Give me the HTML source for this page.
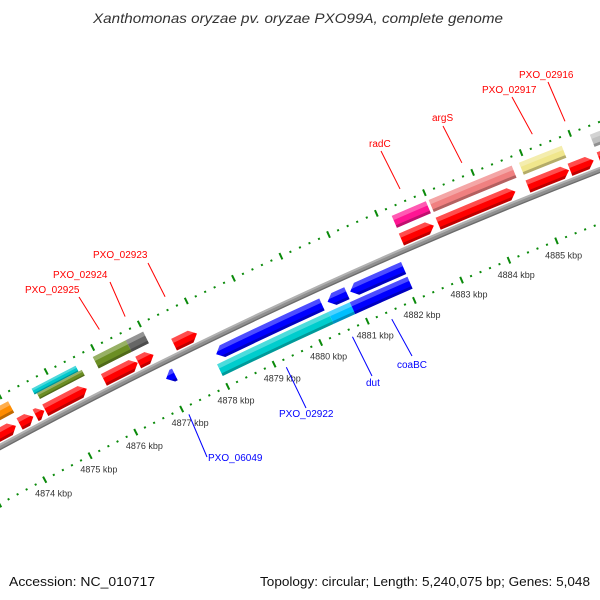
<!DOCTYPE html>
<html><head><meta charset="utf-8"><style>
html,body{margin:0;padding:0;background:#fff;}
svg{display:block;font-family:"Liberation Sans",sans-serif;}
</style></head><body>
<svg id="map" width="600" height="600" viewBox="0 0 600 600" xmlns="http://www.w3.org/2000/svg">
<rect width="600" height="600" fill="#fff"/>
<defs id="defs"></defs>
<g id="ticks"></g>
<g id="backbone"></g>
<g id="features"></g>
<g id="labels"></g>
<text x="298" y="23" text-anchor="middle" font-size="14" font-style="italic" fill="#333" textLength="410" lengthAdjust="spacingAndGlyphs">Xanthomonas oryzae pv. oryzae PXO99A, complete genome</text>
<text x="9" y="586" font-size="13" fill="#111" textLength="146" lengthAdjust="spacingAndGlyphs">Accession: NC_010717</text>
<text x="260" y="586" font-size="13" fill="#111" textLength="330" lengthAdjust="spacingAndGlyphs">Topology: circular; Length: 5,240,075 bp; Genes: 5,048</text>
</svg>
<script>
// ---- data (kbp) ----
const fwdStarts = [4873.0,4874.08,4874.43,4874.64,4875.91,4876.65,4877.42,4882.24,4883.01,4884.88,4885.75,4886.35];
const fwdEnds   = [4874.0,4874.38,4874.62,4875.54,4876.64,4876.98,4877.91,4882.92,4884.62,4885.73,4886.24,4887.5];
const boxStarts = [4873.0,4874.60,4874.65,4875.92,4876.63,4882.25,4883.02,4884.89,4886.35];
const boxEnds   = [4874.09,4875.55,4875.62,4876.63,4877.0,4882.96,4884.74,4885.77,4887.5];
const boxColors = ['#ff8c00','#00c8cc','#6b8e23','#6b8e23','#666666','#ff1493','#f08080','#f0e68c','#c0c0c0'];
const boxHalf   = [0,1,-1,0,0,0,0,0,0];
const revStarts = [4876.99,4878.07,4880.45,4880.93];
const revEnds   = [4877.18,4880.33,4880.86,4882.06];
const rev2Starts = [4878.0,4880.38,4880.84];
const rev2Ends   = [4880.38,4880.84,4882.06];
const rev2Colors = ['#00cdcd','#00bfff','#0000ff'];
const tickMin = 4871, tickMax = 4888;
const kbpLabels = [4874,4875,4876,4877,4878,4879,4880,4881,4882,4883,4884,4885];
const outerLabelText = ['PXO_02925','PXO_02924','PXO_02923','radC','argS','PXO_02917','PXO_02916'];
const outerLabelKbp  = [4876.27,4876.82,4877.67,4882.6,4883.88,4885.33,4886.0];
const innerLabelText = ['PXO_06049','PXO_02922','dut','coaBC'];
const innerLabelKbp  = [4877.08,4879.19,4880.61,4881.45];
// label placement (layout)
const outerLabelPos = [[25,293,79,297],[53,278,110,282],[93,258,148,263],[369,147,381,151],[432,121,443,126],[482,93,512,97],[519,78,548,82]];
const innerLabelPos = [[208,461,207,457],[279,417,306,408],[366,386,372,376],[397,368,412,356]];

// ---- geometry ----
const CX=2489, CY=5049, A0=-116.44, DEG_PER_KBP=0.568, K0=4877;
function ang(k){return (A0+(k-K0)*DEG_PER_KBP)*Math.PI/180;}
function pt(k,r){const a=ang(k);return [CX+r*Math.cos(a),CY+r*Math.sin(a)];}
function f(p){return p[0].toFixed(2)+' '+p[1].toFixed(2);}
function hk(r){return 7/(r*DEG_PER_KBP*Math.PI/180);}
function boxPath(k1,k2,r0,r1){
  return 'M'+f(pt(k1,r1))+' A'+r1+' '+r1+' 0 0 1 '+f(pt(k2,r1))+' L'+f(pt(k2,r0))+' A'+r0+' '+r0+' 0 0 0 '+f(pt(k1,r0))+' Z';
}
function fwdPath(k1,k2,r0,r1){
  let h=Math.min(hk(r1),k2-k1);const rc=(r0+r1)/2;
  return 'M'+f(pt(k1,r1))+' A'+r1+' '+r1+' 0 0 1 '+f(pt(k2-h,r1))+' L'+f(pt(k2,rc))+' L'+f(pt(k2-h,r0))+' A'+r0+' '+r0+' 0 0 0 '+f(pt(k1,r0))+' Z';
}
function revPath(k1,k2,r0,r1){
  let h=Math.min(hk(r1),k2-k1);const rc=(r0+r1)/2;
  return 'M'+f(pt(k1,rc))+' L'+f(pt(k1+h,r1))+' A'+r1+' '+r1+' 0 0 1 '+f(pt(k2,r1))+' L'+f(pt(k2,r0))+' A'+r0+' '+r0+' 0 0 0 '+f(pt(k1+h,r0))+' Z';
}
const NS='http://www.w3.org/2000/svg';
const defs=document.getElementById('defs');
let cid=0;
function shaded(parent,d,k1,k2,r0,r1,color,name){
  const id='c'+(cid++);
  const cp=document.createElementNS(NS,'clipPath');cp.setAttribute('id',id);
  const cpp=document.createElementNS(NS,'path');cpp.setAttribute('d',d);cp.appendChild(cpp);defs.appendChild(cp);
  const g=document.createElementNS(NS,'g');
  
  
  const p=document.createElementNS(NS,'path');p.setAttribute('d',d);p.setAttribute('fill',color);g.appendChild(p);
  const w=r1-r0;
  const hi=document.createElementNS(NS,'path');
  hi.setAttribute('d',boxPath(k1-0.1,k2+0.1,r1-w*0.35,r1+1));
  hi.setAttribute('fill','#fff');hi.setAttribute('fill-opacity','0.3');hi.setAttribute('clip-path','url(#'+id+')');g.appendChild(hi);
  const lo=document.createElementNS(NS,'path');
  lo.setAttribute('d',boxPath(k1-0.1,k2+0.1,r0-1,r0+w*0.22));
  lo.setAttribute('fill','#000');lo.setAttribute('fill-opacity','0.25');lo.setAttribute('clip-path','url(#'+id+')');g.appendChild(lo);
  parent.appendChild(g);
}
// ticks
const tg=document.getElementById('ticks');
[5182,5277].forEach(function(R){
  for(let i=Math.round(tickMin*5);i<=tickMax*5;i++){
    const k=i/5;
    if(i%5===0){
      const a=pt(k,R-3.5),b=pt(k,R+3.5);
      const l=document.createElementNS(NS,'line');
      
      
      l.setAttribute('x1',a[0]);l.setAttribute('y1',a[1]);l.setAttribute('x2',b[0]);l.setAttribute('y2',b[1]);
      l.setAttribute('stroke','#0a8a0a');l.setAttribute('stroke-width','2');tg.appendChild(l);
    } else {
      const a=pt(k,R-1),b=pt(k,R+1);
      const l=document.createElementNS(NS,'line');
      
      
      l.setAttribute('x1',a[0]);l.setAttribute('y1',a[1]);l.setAttribute('x2',b[0]);l.setAttribute('y2',b[1]);
      l.setAttribute('stroke','#0a8a0a');l.setAttribute('stroke-width','2');tg.appendChild(l);
    }
  }
});
kbpLabels.forEach(function(k){
  const p=pt(k,5163);
  const t=document.createElementNS(NS,'text');
  
  
  t.setAttribute('x',p[0]);t.setAttribute('y',p[1]);t.setAttribute('text-anchor','middle');
  t.setAttribute('font-size','9');t.setAttribute('fill','#333');t.textContent=k+' kbp';tg.appendChild(t);
});
// backbone
shaded(document.getElementById('backbone'),boxPath(4871,4889,5229,5235),4871,4889,5229,5235,'#909090','backbone-ring');
// features
const fg=document.getElementById('features');
for(let i=0;i<fwdStarts.length;i++){
  shaded(fg,fwdPath(fwdStarts[i],fwdEnds[i],5236.5,5249.5),fwdStarts[i],fwdEnds[i],5236.5,5249.5,'#ff0000','forward-gene');
}
for(let i=0;i<boxStarts.length;i++){
  let r0=5255.5,r1=5268.5;
  if(boxHalf[i]===1) r0=5262; if(boxHalf[i]===-1) r1=5262;
  shaded(fg,boxPath(boxStarts[i],boxEnds[i],r0,r1),boxStarts[i],boxEnds[i],r0,r1,boxColors[i],'forward-feature-box');
}
for(let i=0;i<revStarts.length;i++){
  shaded(fg,revPath(revStarts[i],revEnds[i],5209.5,5222.5),revStarts[i],revEnds[i],5209.5,5222.5,'#0000ff','reverse-gene');
}
for(let i=0;i<rev2Starts.length;i++){
  shaded(fg,boxPath(rev2Starts[i],rev2Ends[i],5193.5,5206.5),rev2Starts[i],rev2Ends[i],5193.5,5206.5,rev2Colors[i],'reverse-feature-box');
}
// labels
const lg=document.getElementById('labels');
function addLabel(text,k,pos,r,color){
  const e=pt(k,r);
  const l=document.createElementNS(NS,'line');
  
  
  l.setAttribute('x1',pos[2]);l.setAttribute('y1',pos[3]);l.setAttribute('x2',e[0]);l.setAttribute('y2',e[1]);
  l.setAttribute('stroke',color);l.setAttribute('stroke-width','1');lg.appendChild(l);
  const t=document.createElementNS(NS,'text');
  
  
  t.setAttribute('x',pos[0]);t.setAttribute('y',pos[1]);t.setAttribute('font-size','10');t.setAttribute('fill',color);
  t.textContent=text;lg.appendChild(t);
}
for(let i=0;i<outerLabelText.length;i++) addLabel(outerLabelText[i],outerLabelKbp[i],outerLabelPos[i],5290,'#ff0000');
for(let i=0;i<innerLabelText.length;i++) addLabel(innerLabelText[i],innerLabelKbp[i],innerLabelPos[i],5174,'#0000ff');
</script>
</body></html>
